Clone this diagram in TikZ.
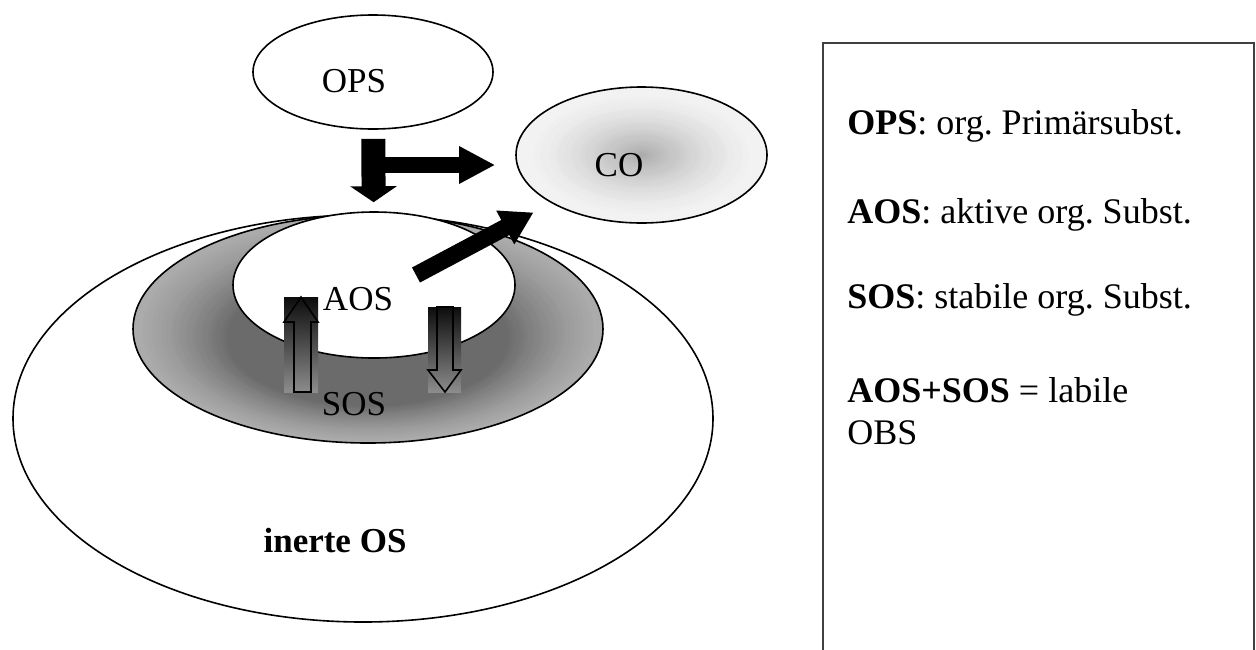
\documentclass[tikz,border=0pt]{standalone}
\usepackage{fontspec}
\setmainfont{Liberation Serif}
\usetikzlibrary{shapes.geometric,arrows.meta}
\frenchspacing

\tikzset{
  pool/.style={ellipse,draw,line width=0.8pt,inner sep=0pt},
  whitefill/.style={fill=white},
  bare/.style={},
  lbl/.style={font=\fontsize{17.5}{21}\selectfont,inner sep=0pt},
  legend/.style={font=\fontsize{18}{22}\selectfont,anchor=base west,inner sep=0pt},
}

\begin{document}
\begin{tikzpicture}[x=0.5pt,y=-0.5pt]
\useasboundingbox (0,0) rectangle (1256,649);

% pools, biggest first
\node[pool,whitefill,minimum width=350pt,minimum height=203.5pt] (inert) at (363,418.5) {};
% grey ring and CO glow, built from rings
\foreach \i in {0,...,40} {
  \pgfmathsetmacro\f{1-0.01*\i}
  \pgfmathtruncatemacro\c{33+25*(\i/40)^1.3}
  \fill[black!\c] (368,329+9*\i/40) ellipse [x radius=235*\f, y radius=114*\f];
  \pgfmathsetmacro\g{1-0.024*\i}
  \pgfmathtruncatemacro\d{5+27*(\i/40)^1.6}
  \fill[black!\d] (641.5,155) ellipse [x radius=125.5*\g, y radius=68*\g];
}
\foreach \pos/\name/\w/\h/\look in {{(368,329)/sos/470/228/bare}, {(374,285)/aos/282/146/whitefill}, {(373,72)/ops/240/114/whitefill}, {(641.5,155)/co/251/136/bare}}
\node[pool,\look,minimum width=\w*0.5pt,minimum height=\h*0.5pt] (\name) at \pos {};

% exchange between AOS and SOS
\shade[top color=black!95,bottom color=black!45] (284,297) rectangle (318,392);
\draw[line width=0.8pt] (301,297) -- (318,322) -- (311,322) -- (311,392) -- (294,392) -- (294,322) -- (284,322) -- cycle;
\shade[top color=black!95,bottom color=black!45] (428,307) rectangle (461,392);
\draw[line width=0.8pt] (437,307) -- (453,307) -- (453,370) -- (461,370) -- (445,392) -- (428,370) -- (437,370) -- cycle;

\foreach \pos/\name/\txt in {{(358,299)/aostxt/AOS}, {(354,404)/sostxt/SOS}, {(354,81)/opstxt/OPS}, {(619,165)/cotxt/CO}}
\node[lbl] (\name) at \pos {\txt};
\node[lbl,font=\bfseries\fontsize{17.5}{21}\selectfont] (inerttxt) at (335,541) {inerte OS};

% flows
\draw[line width=12pt,-{Triangle[length=8pt,width=23pt]},shorten <=4.5pt,shorten >=4.5pt] (ops) -- (aos);
\coordinate (fork) at (374,165);
\draw[line width=8pt,-{Triangle[length=18pt,width=17.5pt]},shorten >=10pt] (fork) -- (fork -| co.west);
\coordinate (aosout) at (416,275);
\draw[line width=8.5pt,-{Triangle[length=16pt,width=18pt]},shorten >=10pt] (aosout) -- (co);

% legend box
\draw[black!75,line width=1pt] (823,660) -- (823,43) -- (1254,43) -- (1254,660);
\foreach \y/\name/\txt in {134/lops/{\textbf{OPS}: org. Primärsubst.}, 223/laos/{\textbf{AOS}: aktive org. Subst.}, 308/lsos/{\textbf{SOS}: stabile org. Subst.}, 402/lsum/{\textbf{AOS+SOS} = labile}, 444/lobs/OBS}
\node[legend] (\name) at (847,\y) {\txt};

\end{tikzpicture}
\end{document}
